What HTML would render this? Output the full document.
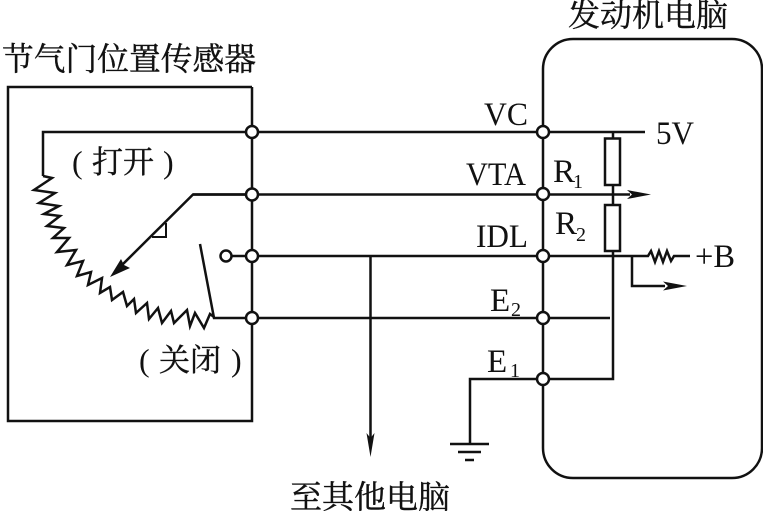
<!DOCTYPE html>
<html><head><meta charset="utf-8">
<style>
html,body{margin:0;padding:0;background:#fff;width:763px;height:511px;overflow:hidden}
svg{display:block}
text{fill:#111;font-family:"Liberation Serif","Noto Serif CJK SC",serif}
.cn{font-size:32px;stroke:#111;stroke-width:.4px}
.lb{font-size:33px}
.sub{font-size:20px}
</style></head><body>
<svg width="763" height="511" viewBox="0 0 763 511" xmlns="http://www.w3.org/2000/svg">
<g fill="none" stroke="#111" stroke-width="2.5">
<path d="M252 87H8V421H252V87"/>
<rect x="543" y="39" width="219" height="439" rx="30" ry="30"/>
<path d="M43 176V132H645"/>
<path d="M252 194.500H193L118 269"/>
<path d="M193 194.500H630"/>
<path d="M231 256H645"/>
<path d="M252 318H610"/>
<path d="M200 244L214 318H252"/>
<path d="M166 223V237H152" stroke-width="2"/>
<path d="M613 132V138M613 185V205M613 251V379H470V444"/>
<path d="M450 444H489M458 452H481M465 460H474"/>
<path d="M370.500 256V440"/>
<path d="M632 256V286H665"/>
<path d="M645 256L648 256L651 251L655 262L659 251L663 262L667 251L671 261L674 256H690"/>
<path d="M43 176L52 178L34 190L55 193L39 203L59 206L44 214L60 216L47 226L64 228L53 238L69 238L57 252L76 250L67 265L83 261L77 276L91 272L88 285L102 278L100 293L110 287L112 300L123 292L127 306L134 299L136 313L147 303L149 319L158 308L162 323L171 311L174 323L187 310L190 326L195 313L204 328L210 314L214 317" stroke-linejoin="miter"/>
<rect x="605" y="138.500" width="15" height="46.500" fill="#fff"/>
<rect x="605" y="205" width="15" height="46" fill="#fff"/>
</g>
<g fill="#111" stroke="none">
<path d="M110 277L121 259L124 265L130 268Z"/>
<path d="M651 194.500L627 190L632 194.500L627 199Z"/>
<path d="M687 286L663 281.500L668 286L663 290.500Z"/>
<path d="M370.500 457L366.500 433L370.500 438L374.500 433Z"/>
</g>
<g fill="#fff" stroke="#111" stroke-width="2.500">
<circle cx="226" cy="256" r="5.500"/>
<circle cx="252" cy="132" r="6"/><circle cx="252" cy="194.500" r="6"/><circle cx="252" cy="256" r="6"/><circle cx="252" cy="318" r="6"/>
<circle cx="543" cy="132" r="6"/><circle cx="543" cy="194" r="6"/><circle cx="543" cy="256" r="6"/><circle cx="543" cy="318" r="6"/><circle cx="543" cy="379" r="6"/>
</g>
<text class="cn" x="2" y="70" textLength="254" lengthAdjust="spacingAndGlyphs">节气门位置传感器</text>
<text class="cn" x="568" y="26" textLength="160" lengthAdjust="spacingAndGlyphs">发动机电脑</text>
<text class="cn" x="290" y="508" textLength="160" lengthAdjust="spacingAndGlyphs">至其他电脑</text>
<text x="72" y="173" font-size="32">(</text>
<text class="cn" x="92" y="173" style="font-size:31px">打开</text>
<text x="163" y="173" font-size="32">)</text>
<text x="139" y="371" font-size="32">(</text>
<text class="cn" x="159" y="371" style="font-size:31px">关闭</text>
<text x="231" y="371" font-size="32">)</text>
<text class="lb" x="484" y="125" textLength="44" lengthAdjust="spacingAndGlyphs">VC</text>
<text class="lb" x="466" y="185" textLength="60" lengthAdjust="spacingAndGlyphs">VTA</text>
<text class="lb" x="476" y="247" textLength="52" lengthAdjust="spacingAndGlyphs">IDL</text>
<text class="lb" x="490" y="311">E</text><text class="sub" x="511" y="316">2</text>
<text class="lb" x="487" y="372">E</text><text class="sub" x="510" y="377">1</text>
<text class="lb" x="553" y="182">R</text><text class="sub" x="573" y="188">1</text>
<text class="lb" x="555" y="234">R</text><text class="sub" x="576" y="241">2</text>
<text class="lb" x="656" y="144" textLength="38" lengthAdjust="spacingAndGlyphs">5V</text>
<text class="lb" x="695" y="267" textLength="40" lengthAdjust="spacingAndGlyphs">+B</text>
</svg>
</body></html>
